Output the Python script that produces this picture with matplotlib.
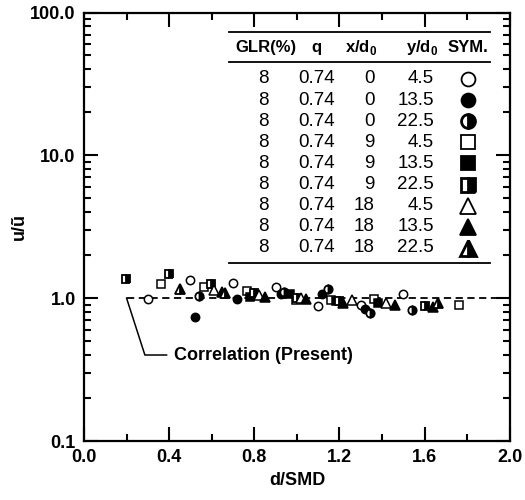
import matplotlib
matplotlib.use('Agg')
import matplotlib.pyplot as plt
from matplotlib.ticker import FixedLocator, LogLocator, NullFormatter, FuncFormatter

plt.rcParams['font.family'] = ['Liberation Sans', 'DejaVu Sans']
plt.rcParams['mathtext.fontset'] = 'custom'
plt.rcParams['mathtext.rm'] = 'Liberation Sans'
plt.rcParams['mathtext.bf'] = 'Liberation Sans:bold'

# legend table rows: GLR(%), q, x/d0, y/d0
glr = ['8'] * 9
q = ['0.74'] * 9
x_d0 = ['0', '0', '0', '9', '9', '9', '18', '18', '18']
y_d0 = ['4.5', '13.5', '22.5', '4.5', '13.5', '22.5', '4.5', '13.5', '22.5']

d_x0_y45 = [0.30, 0.50, 0.70, 0.90, 1.10, 1.30, 1.50]
u_x0_y45 = [0.98, 1.34, 1.27, 1.19, 0.88, 0.89, 1.07]
d_x0_y135 = [0.52, 0.72, 0.925, 1.12, 1.32]
u_x0_y135 = [0.74, 0.98, 1.07, 1.07, 0.84]
d_x0_y225 = [0.54, 0.94, 1.144, 1.342, 1.543]
u_x0_y225 = [1.04, 1.11, 1.16, 0.79, 0.82]
d_x9_y45 = [0.361, 0.563, 0.764, 0.995, 1.158, 1.36, 1.762]
u_x9_y45 = [1.26, 1.19, 1.13, 0.97, 0.97, 0.98, 0.89]
d_x9_y135 = [0.78, 0.967, 1.186, 1.38]
u_x9_y135 = [1.02, 1.07, 0.96, 0.92]
d_x9_y225 = [0.197, 0.40, 0.596, 0.80, 1.0, 1.20, 1.60]
u_x9_y225 = [1.36, 1.47, 1.25, 1.08, 1.0, 0.95, 0.88]
d_x18_y45 = [0.61, 0.82, 1.02, 1.257, 1.42]
u_x18_y45 = [1.14, 1.05, 1.0, 0.97, 0.93]
d_x18_y135 = [0.646, 0.85, 1.045, 1.217, 1.46, 1.64]
u_x18_y135 = [1.10, 1.02, 0.99, 0.93, 0.89, 0.87]
d_x18_y225 = [0.451, 0.66, 1.663]
u_x18_y225 = [1.16, 1.08, 0.92]

series = [
    (d_x0_y45, u_x0_y45, 'o', 'none'),
    (d_x0_y135, u_x0_y135, 'o', 'full'),
    (d_x0_y225, u_x0_y225, 'o', 'right'),
    (d_x9_y45, u_x9_y45, 's', 'none'),
    (d_x9_y135, u_x9_y135, 's', 'full'),
    (d_x9_y225, u_x9_y225, 's', 'right'),
    (d_x18_y45, u_x18_y45, '^', 'none'),
    (d_x18_y135, u_x18_y135, '^', 'full'),
    (d_x18_y225, u_x18_y225, '^', 'right'),
]

fig = plt.figure(figsize=(5.25, 5.0), dpi=100)
ax = fig.add_axes([0.16, 0.118, 0.811, 0.857])

# correlation line
ax.plot([0.2, 2.0], [1.0, 1.0], color='k', lw=1.3, ls=(0, (4, 2.5)), zorder=2)

for d, u, m, fs in series:
    size = 7 if m == '^' else 6
    if fs == 'none':
        ax.plot(d, u, ls='none', marker=m, ms=size, mfc='white', mec='k', mew=1.1, zorder=3)
    elif fs == 'full':
        ax.plot(d, u, ls='none', marker=m, ms=size, mfc='k', mec='k', mew=1.1, zorder=3)
    else:
        ax.plot(d, u, ls='none', marker=m, ms=size, fillstyle=fs, mfc='k',
                mfcalt='white', mec='k', mew=1.3, zorder=3)

# leader + label
ax.plot([0.2, 0.286, 0.388], [1.0, 0.40, 0.40], color='k', lw=1.1)
ax.text(0.425, 0.40, 'Correlation (Present)', fontsize=13, fontweight='bold',
        va='center', ha='left')

ax.set_yscale('log')
ax.set_xlim(0, 2.0)
ax.set_ylim(0.1, 100)
ax.xaxis.set_major_locator(FixedLocator([0.0, 0.4, 0.8, 1.2, 1.6, 2.0]))
ax.xaxis.set_minor_locator(FixedLocator([0.2, 0.6, 1.0, 1.4, 1.8]))
ax.xaxis.set_major_formatter(FuncFormatter(lambda v, p: '%.1f' % v))
ax.yaxis.set_major_locator(FixedLocator([0.1, 1, 10, 100]))
ax.yaxis.set_minor_locator(LogLocator(base=10, subs=range(2, 10)))
ax.yaxis.set_major_formatter(FuncFormatter(lambda v, p: '%.1f' % v))
ax.yaxis.set_minor_formatter(NullFormatter())

ax.tick_params(which='both', direction='in', top=True, right=True, width=1.5)
ax.tick_params(which='major', length=10, labelsize=13, pad=6)
ax.tick_params(which='minor', length=5)
for lab in ax.get_xticklabels() + ax.get_yticklabels():
    lab.set_fontweight('bold')
for s in ax.spines.values():
    s.set_linewidth(1.6)

ax.set_xlabel('d/SMD', fontsize=13, fontweight='bold', labelpad=4)
ax.set_ylabel('u/\u0169', fontsize=13, fontweight='bold', labelpad=2)

# table legend
tr = ax.transAxes
ax.plot([0.340, 0.953], [0.954, 0.954], color='k', lw=1.3, transform=tr, clip_on=False)
ax.plot([0.340, 0.953], [0.884, 0.884], color='k', lw=1.3, transform=tr, clip_on=False)
ax.plot([0.340, 0.953], [0.415, 0.415], color='k', lw=1.3, transform=tr, clip_on=False)

hy = 0.918
hdr = dict(fontsize=12, fontweight='bold', ha='center', va='center', transform=tr)
ax.text(0.427, hy, 'GLR(%)', **hdr)
ax.text(0.547, hy, 'q', **hdr)
ax.text(0.650, hy, r'x/d$_\mathbf{0}$', **hdr)
ax.text(0.793, hy, r'y/d$_\mathbf{0}$', **hdr)
ax.text(0.901, hy, 'SYM.', **hdr)

cell = dict(fontsize=13.5, ha='right', va='center', transform=tr)
for i in range(9):
    ry = 0.845 - i * 0.0493
    ax.text(0.434, ry, glr[i], **cell)
    ax.text(0.589, ry, q[i], **cell)
    ax.text(0.683, ry, x_d0[i], **cell)
    ax.text(0.822, ry, y_d0[i], **cell)
    m, fs = series[i][2], series[i][3]
    size = 11 if m == '^' else 10
    if fs == 'none':
        ax.plot([0.901], [ry], marker=m, ms=size, mfc='white', mec='k', mew=1.3, transform=tr)
    elif fs == 'full':
        ax.plot([0.901], [ry], marker=m, ms=size, mfc='k', mec='k', mew=1.3, transform=tr)
    else:
        ax.plot([0.901], [ry], marker=m, ms=size, fillstyle=fs, mfc='k', mfcalt='white',
                mec='k', mew=2.0, transform=tr)

fig.savefig('out.png', dpi=100)
